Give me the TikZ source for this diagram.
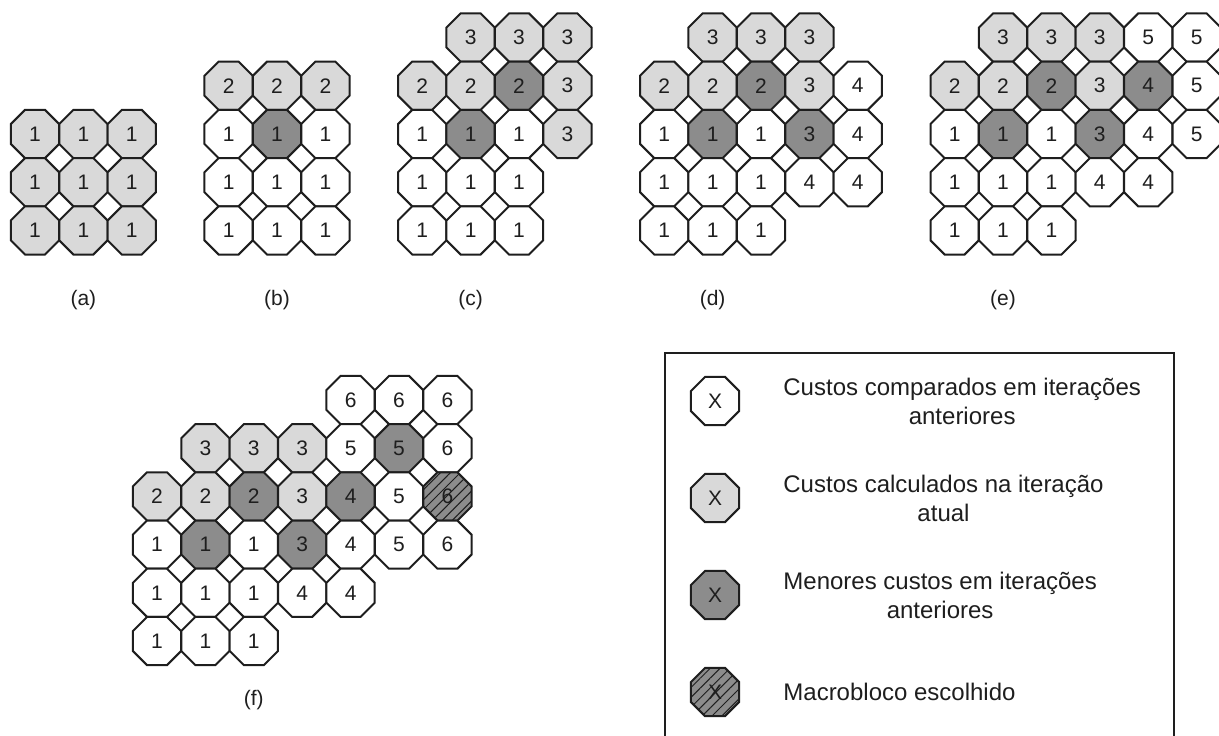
\documentclass[tikz,border=0pt]{standalone}
\usepackage{fontspec}
\setmainfont{Liberation Sans}
\usetikzlibrary{shapes.geometric,patterns.meta}
\definecolor{lightcell}{RGB}{217,217,217}
\definecolor{darkcell}{RGB}{140,140,140}
\definecolor{ink}{RGB}{30,30,30}
\begin{document}
\begin{tikzpicture}[x=0.5pt,y=0.5pt]
\tikzset{
  cell/.style={regular polygon, regular polygon sides=8, minimum size=26.1pt, inner sep=0pt,
    draw=ink, line width=1pt, text=ink, font=\fontsize{10.5}{12}\selectfont},
  cw/.style={cell, fill=white},
  cl/.style={cell, fill=lightcell},
  cd/.style={cell, fill=darkcell},
  ch/.style={cd, postaction={pattern={Lines[angle=45,distance=3.5pt,line width=0.5pt]}, pattern color=ink}},
  lbl/.style={text=ink, font=\fontsize{10.5}{12}\selectfont},
  legtxt/.style={anchor=west, align=center, inner sep=0pt, text=ink, font=\fontsize{12}{14.5}\selectfont},
  legbox/.style={draw=ink, line width=1pt}
}
\useasboundingbox (0,0) rectangle (1219,-735);
% (a)
\node [cl] (a20) at (35,-134) {1};
\node [cl] (a21) at (83.4,-134) {1};
\node [cl] (a22) at (131.8,-134) {1};
\node [cl] (a30) at (35,-182.2) {1};
\node [cl] (a31) at (83.4,-182.2) {1};
\node [cl] (a32) at (131.8,-182.2) {1};
\node [cl] (a40) at (35,-230.4) {1};
\node [cl] (a41) at (83.4,-230.4) {1};
\node [cl] (a42) at (131.8,-230.4) {1};
\node [lbl] (la) at (83.4,-300) {(a)};
% (b)
\node [cl] (b10) at (228.6,-85.7) {2};
\node [cl] (b11) at (277,-85.7) {2};
\node [cl] (b12) at (325.4,-85.7) {2};
\node [cw] (b20) at (228.6,-134) {1};
\node [cd] (b21) at (277,-134) {1};
\node [cw] (b22) at (325.4,-134) {1};
\node [cw] (b30) at (228.6,-182.2) {1};
\node [cw] (b31) at (277,-182.2) {1};
\node [cw] (b32) at (325.4,-182.2) {1};
\node [cw] (b40) at (228.6,-230.4) {1};
\node [cw] (b41) at (277,-230.4) {1};
\node [cw] (b42) at (325.4,-230.4) {1};
\node [lbl] (lb) at (277,-300) {(b)};
% (c)
\node [cl] (c01) at (470.6,-37.5) {3};
\node [cl] (c02) at (519,-37.5) {3};
\node [cl] (c03) at (567.4,-37.5) {3};
\node [cl] (c10) at (422.2,-85.7) {2};
\node [cl] (c11) at (470.6,-85.7) {2};
\node [cd] (c12) at (519,-85.7) {2};
\node [cl] (c13) at (567.4,-85.7) {3};
\node [cw] (c20) at (422.2,-134) {1};
\node [cd] (c21) at (470.6,-134) {1};
\node [cw] (c22) at (519,-134) {1};
\node [cl] (c23) at (567.4,-134) {3};
\node [cw] (c30) at (422.2,-182.2) {1};
\node [cw] (c31) at (470.6,-182.2) {1};
\node [cw] (c32) at (519,-182.2) {1};
\node [cw] (c40) at (422.2,-230.4) {1};
\node [cw] (c41) at (470.6,-230.4) {1};
\node [cw] (c42) at (519,-230.4) {1};
\node [lbl] (lc) at (470.6,-300) {(c)};
% (d)
\node [cl] (d01) at (712.6,-37.5) {3};
\node [cl] (d02) at (761,-37.5) {3};
\node [cl] (d03) at (809.4,-37.5) {3};
\node [cl] (d10) at (664.2,-85.7) {2};
\node [cl] (d11) at (712.6,-85.7) {2};
\node [cd] (d12) at (761,-85.7) {2};
\node [cl] (d13) at (809.4,-85.7) {3};
\node [cw] (d14) at (857.8,-85.7) {4};
\node [cw] (d20) at (664.2,-134) {1};
\node [cd] (d21) at (712.6,-134) {1};
\node [cw] (d22) at (761,-134) {1};
\node [cd] (d23) at (809.4,-134) {3};
\node [cw] (d24) at (857.8,-134) {4};
\node [cw] (d30) at (664.2,-182.2) {1};
\node [cw] (d31) at (712.6,-182.2) {1};
\node [cw] (d32) at (761,-182.2) {1};
\node [cw] (d33) at (809.4,-182.2) {4};
\node [cw] (d34) at (857.8,-182.2) {4};
\node [cw] (d40) at (664.2,-230.4) {1};
\node [cw] (d41) at (712.6,-230.4) {1};
\node [cw] (d42) at (761,-230.4) {1};
\node [lbl] (ld) at (712.6,-300) {(d)};
% (e)
\node [cl] (e01) at (1003,-37.5) {3};
\node [cl] (e02) at (1051.4,-37.5) {3};
\node [cl] (e03) at (1099.8,-37.5) {3};
\node [cw] (e04) at (1148.2,-37.5) {5};
\node [cw] (e05) at (1196.6,-37.5) {5};
\node [cl] (e10) at (954.6,-85.7) {2};
\node [cl] (e11) at (1003,-85.7) {2};
\node [cd] (e12) at (1051.4,-85.7) {2};
\node [cl] (e13) at (1099.8,-85.7) {3};
\node [cd] (e14) at (1148.2,-85.7) {4};
\node [cw] (e15) at (1196.6,-85.7) {5};
\node [cw] (e20) at (954.6,-134) {1};
\node [cd] (e21) at (1003,-134) {1};
\node [cw] (e22) at (1051.4,-134) {1};
\node [cd] (e23) at (1099.8,-134) {3};
\node [cw] (e24) at (1148.2,-134) {4};
\node [cw] (e25) at (1196.6,-134) {5};
\node [cw] (e30) at (954.6,-182.2) {1};
\node [cw] (e31) at (1003,-182.2) {1};
\node [cw] (e32) at (1051.4,-182.2) {1};
\node [cw] (e33) at (1099.8,-182.2) {4};
\node [cw] (e34) at (1148.2,-182.2) {4};
\node [cw] (e40) at (954.6,-230.4) {1};
\node [cw] (e41) at (1003,-230.4) {1};
\node [cw] (e42) at (1051.4,-230.4) {1};
\node [lbl] (le) at (1003,-300) {(e)};
% (f)
\node [cw] (f04) at (350.6,-400) {6};
\node [cw] (f05) at (399,-400) {6};
\node [cw] (f06) at (447.4,-400) {6};
\node [cl] (f11) at (205.4,-448.2) {3};
\node [cl] (f12) at (253.8,-448.2) {3};
\node [cl] (f13) at (302.2,-448.2) {3};
\node [cw] (f14) at (350.6,-448.2) {5};
\node [cd] (f15) at (399,-448.2) {5};
\node [cw] (f16) at (447.4,-448.2) {6};
\node [cl] (f20) at (157,-496.4) {2};
\node [cl] (f21) at (205.4,-496.4) {2};
\node [cd] (f22) at (253.8,-496.4) {2};
\node [cl] (f23) at (302.2,-496.4) {3};
\node [cd] (f24) at (350.6,-496.4) {4};
\node [cw] (f25) at (399,-496.4) {5};
\node [ch] (f26) at (447.4,-496.4) {6};
\node [cw] (f30) at (157,-544.6) {1};
\node [cd] (f31) at (205.4,-544.6) {1};
\node [cw] (f32) at (253.8,-544.6) {1};
\node [cd] (f33) at (302.2,-544.6) {3};
\node [cw] (f34) at (350.6,-544.6) {4};
\node [cw] (f35) at (399,-544.6) {5};
\node [cw] (f36) at (447.4,-544.6) {6};
\node [cw] (f40) at (157,-592.8) {1};
\node [cw] (f41) at (205.4,-592.8) {1};
\node [cw] (f42) at (253.8,-592.8) {1};
\node [cw] (f43) at (302.2,-592.8) {4};
\node [cw] (f44) at (350.6,-592.8) {4};
\node [cw] (f50) at (157,-641) {1};
\node [cw] (f51) at (205.4,-641) {1};
\node [cw] (f52) at (253.8,-641) {1};
\node [lbl] (lf) at (253.8,-700) {(f)};
% legenda
\draw [legbox] (665,-353) rectangle (1174,-750);
\node [cw] (kw) at (715,-401) {X};
\node [legtxt] (tw) at (783,-401) {Custos comparados em iterações\\anteriores};
\node [cl] (kl) at (715,-498) {X};
\node [legtxt] (tl) at (783,-498) {Custos calculados na iteração\\atual};
\node [cd] (kd) at (715,-595) {X};
\node [legtxt] (td) at (783,-595) {Menores custos em iterações\\anteriores};
\node [ch] (kh) at (715,-692) {X};
\node [legtxt] (th) at (783,-692) {Macrobloco escolhido};
\end{tikzpicture}
\end{document}
